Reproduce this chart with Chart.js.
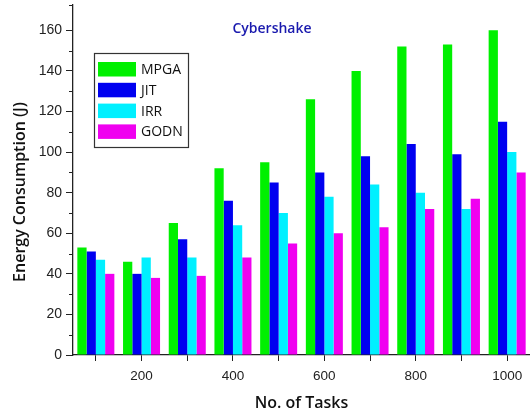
<!DOCTYPE html>
<html>
<head>
<meta charset="utf-8">
<script src="https://cdn.jsdelivr.net/npm/chart.js@4.4.0/dist/chart.umd.min.js"></script>
<style>
  html, body { margin: 0; padding: 0; background: #fff; }
  #wrap { width: 530px; height: 419px; position: relative; }
</style>
</head>
<body>
<div id="wrap"><canvas id="energyChart"></canvas></div>
<script>
// Cybershake - energy consumption per number of tasks
const taskCounts = ['100', '200', '300', '400', '500', '600', '700', '800', '900', '1000'];
const mpga = [53, 46, 65, 92, 95, 126, 140, 152, 153, 160];
const jit  = [51, 40, 57, 76, 85, 90, 98, 104, 99, 115];
const irr  = [47, 48, 48, 64, 70, 78, 84, 80, 72, 100];
const godn = [40, 38, 39, 48, 55, 60, 63, 72, 77, 90];

const axisColor = '#222';
const titleFont = '"Open Sans", "DejaVu Sans", sans-serif';
const tickFont = '"Liberation Sans", Arial, sans-serif';

// minor ticks, title, y-axis title and the boxed legend
const overlayPlugin = {
    id: 'overlay',
    afterDraw(chart) {
        const ctx = chart.ctx;
        const yScale = chart.scales.y;

        ctx.save();
        ctx.strokeStyle = axisColor;
        ctx.lineWidth = 1;
        yScale.ticks.forEach(t => {
            if (t.value % 20 === 0) return;
            const py = Math.round(yScale.getPixelForValue(t.value)) + 0.5;
            ctx.beginPath();
            ctx.moveTo(yScale.right - 4, py);
            ctx.lineTo(yScale.right, py);
            ctx.stroke();
        });

        // chart title
        ctx.font = '600 14px ' + titleFont;
        ctx.fillStyle = '#1a1aae';
        ctx.textAlign = 'center';
        ctx.textBaseline = 'middle';
        ctx.fillText('Cybershake', 272, 29);

        // y axis title
        ctx.save();
        ctx.translate(20, 192);
        ctx.rotate(-Math.PI / 2);
        ctx.font = '600 16px ' + titleFont;
        ctx.fillStyle = '#111';
        ctx.fillText('Energy Consumption (J)', 0, 0);
        ctx.restore();

        // legend box
        ctx.strokeStyle = '#333';
        ctx.lineWidth = 1.2;
        ctx.strokeRect(94.5, 53.5, 94, 94);
        ctx.font = '500 14px ' + titleFont;
        ctx.textAlign = 'left';
        chart.data.datasets.forEach((ds, i) => {
            const top = 62 + i * 20.8;
            ctx.fillStyle = ds.backgroundColor;
            ctx.fillRect(98, top, 38, 14.5);
            ctx.fillStyle = '#111';
            ctx.fillText(ds.label, 141, top + 8);
        });
        ctx.restore();
    }
};

new Chart(document.getElementById('energyChart'), {
    type: 'bar',
    data: {
        labels: taskCounts,
        datasets: [
            { label: 'MPGA', data: mpga, backgroundColor: '#00f000' },
            { label: 'JIT',  data: jit,  backgroundColor: '#0000f0' },
            { label: 'IRR',  data: irr,  backgroundColor: '#00f0ff' },
            { label: 'GODN', data: godn, backgroundColor: '#f000f0' }
        ]
    },
    options: {
        responsive: true,
        maintainAspectRatio: false,
        animation: false,
        layout: { padding: { top: 5, right: 0, left: 0, bottom: 0 } },
        datasets: {
            bar: { categoryPercentage: 0.81, barPercentage: 1.0 }
        },
        plugins: {
            legend: { display: false },
            tooltip: { enabled: false }
        },
        scales: {
            x: {
                grid: { offset: false, drawOnChartArea: false, tickLength: 6, tickColor: axisColor, tickWidth: 1 },
                border: { color: axisColor, width: 1.3 },
                ticks: {
                    autoSkip: false,
                    maxRotation: 0,
                    padding: 7,
                    color: '#222',
                    font: { family: tickFont, size: 13.5 },
                    callback: function (val) {
                        const lbl = this.getLabelForValue(val);
                        return Number(lbl) % 200 === 0 ? lbl : '';
                    }
                },
                title: {
                    display: true,
                    text: 'No. of Tasks',
                    color: '#111',
                    font: { family: titleFont, size: 16, weight: '600' },
                    padding: { top: 0, bottom: 6 }
                },
                afterFit: (scale) => { scale.height = 64; }
            },
            y: {
                min: 0,
                max: 172.5,
                grid: {
                    drawOnChartArea: false,
                    tickLength: 7,
                    tickWidth: 1,
                    tickColor: (c) => (c.tick && c.tick.value % 20 === 0) ? axisColor : 'rgba(0,0,0,0)'
                },
                border: { color: axisColor, width: 1.3 },
                ticks: {
                    stepSize: 10,
                    padding: 4,
                    color: '#222',
                    font: { family: tickFont, size: 14 },
                    callback: (v) => v % 20 === 0 ? v : ''
                },
                afterFit: (scale) => {
                    scale.width = 73;
                    scale.paddingTop = 0;
                    scale.paddingBottom = 0;
                }
            }
        }
    },
    plugins: [overlayPlugin]
});
</script>
</body>
</html>
